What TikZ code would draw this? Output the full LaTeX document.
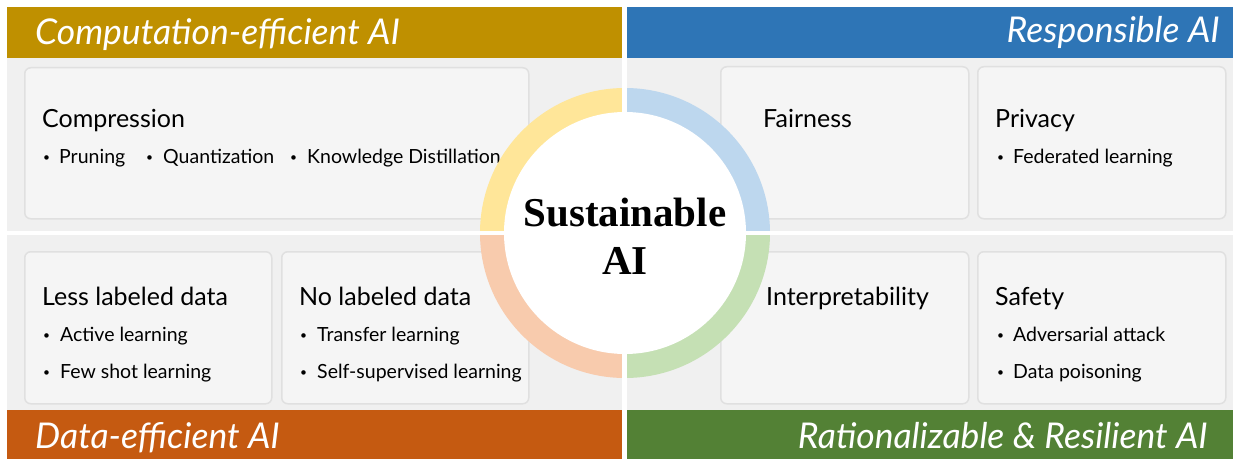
\documentclass[tikz,border=0pt]{standalone}
\usepackage{fontspec}
\setmainfont{Lato}
\newfontfamily\serifbold{Liberation Serif}
\definecolor{cgold}{HTML}{BF9000}
\definecolor{cblue}{HTML}{2E75B6}
\definecolor{corange}{HTML}{C55A11}
\definecolor{cgreen}{HTML}{538135}
\definecolor{rgold}{HTML}{FFE699}
\definecolor{rblue}{HTML}{BDD7EE}
\definecolor{rorange}{HTML}{F8CBAD}
\definecolor{rgreen}{HTML}{C5E0B4}
\definecolor{panelgray}{HTML}{F0F0F0}
\definecolor{cardgray}{HTML}{F5F5F5}
\begin{document}
\begin{tikzpicture}[x=1pt,y=-1pt,
  banner/.style={inner sep=0pt, text=white, font=\fontsize{35.5}{38}\selectfont\itshape},
  card/.style={draw=black!12, line width=1.5pt, fill=cardgray, rounded corners=6pt, anchor=north west},
  ttl/.style={inner sep=0pt, anchor=base west, font=\fontsize{25}{28}\selectfont},
  itm/.style={inner sep=0pt, anchor=base west, font=\fontsize{19.5}{22}\selectfont},
  dot/.style={inner sep=0pt, anchor=base west, font=\fontsize{12}{14}\selectfont, yshift=2pt}
]
\useasboundingbox (0,0) rectangle (1235,460);
\fill[white] (0,0) rectangle (1235,460);
% banners and panels
\fill[cgold] (7,7) rectangle (622,58);
\fill[cblue] (627,7) rectangle (1233,58);
\fill[panelgray] (7,58) rectangle (622,231);
\fill[panelgray] (627,58) rectangle (1233,231);
\fill[panelgray] (7,235) rectangle (622,410);
\fill[panelgray] (627,235) rectangle (1233,410);
\fill[corange] (7,410) rectangle (622,459);
\fill[cgreen] (627,410) rectangle (1233,459);
\node[banner, anchor=base west] (hce) at (35,45) {Computation-efficient AI};
\node[banner, anchor=base east] (hre) at (1220,43) {Responsible AI};
\node[banner, anchor=base west] (hde) at (35,448) {Data-efficient AI};
\node[banner, anchor=base east] (hrr) at (1208,448) {Rationalizable \& Resilient AI};
% cards
\node[card, minimum width=504pt, minimum height=151pt] (ccomp) at (24,67) {};
\node[card, minimum width=248pt, minimum height=152pt] (cfair) at (720,66) {};
\node[card, minimum width=248pt, minimum height=152pt] (cpriv) at (977,66) {};
\node[card, minimum width=247pt, minimum height=152pt] (cless) at (24,251) {};
\node[card, minimum width=247pt, minimum height=152pt] (cno) at (281,251) {};
\node[card, minimum width=248pt, minimum height=152pt] (cint) at (720,251) {};
\node[card, minimum width=248pt, minimum height=152pt] (csafe) at (977,251) {};
% card texts
\node[ttl] (tcomp) at (42,127) {Compression};
\node[dot] (b1) at (43,163) {•};
\node[itm] (i1) at (59,163) {Pruning};
\node[dot] (b2) at (146,163) {•};
\node[itm] (i2) at (163,163) {Quantization};
\node[dot] (b3) at (290,163) {•};
\node[itm] (i3) at (307,163) {Knowledge Distillation};
\node[ttl] (tfair) at (763,127) {Fairness};
\node[ttl] (tpriv) at (995,127) {Privacy};
\node[dot] (b4) at (997,163) {•};
\node[itm] (i4) at (1013,163) {Federated learning};
\node[ttl] (tless) at (42,305) {Less labeled data};
\node[dot] (b5) at (43,341) {•};
\node[itm] (i5) at (60,341) {Active learning};
\node[dot] (b6) at (43,378) {•};
\node[itm] (i6) at (60,378) {Few shot learning};
\node[ttl] (tno) at (299,305) {No labeled data};
\node[dot] (b7) at (300,341) {•};
\node[itm] (i7) at (317,341) {Transfer learning};
\node[dot] (b8) at (300,378) {•};
\node[itm] (i8) at (317,378) {Self-supervised learning};
\node[ttl] (tint) at (766,305) {Interpretability};
\node[ttl] (tsafe) at (995,305) {Safety};
\node[dot] (b9) at (997,341) {•};
\node[itm] (i9) at (1013,341) {Adversarial attack};
\node[dot] (b10) at (997,378) {•};
\node[itm] (i10) at (1013,378) {Data poisoning};
% ring
\coordinate (ctr) at (625,233);
\fill[rgold] (ctr) -- ++(-145,0) arc[start angle=180, end angle=90, radius=145pt] -- cycle;
\fill[rblue] (ctr) -- ++(0,-145) arc[start angle=90, end angle=0, radius=145pt] -- cycle;
\fill[rgreen] (ctr) -- ++(145,0) arc[start angle=0, end angle=-90, radius=145pt] -- cycle;
\fill[rorange] (ctr) -- ++(0,145) arc[start angle=-90, end angle=-180, radius=145pt] -- cycle;
\fill[white] (622,0) rectangle (627,460);
\fill[white] (0,231) rectangle (1235,235);
\node[circle, fill=white, minimum size=242pt, inner sep=0pt] (core) at (ctr) {};
\node[align=center, font=\serifbold\bfseries\fontsize{41}{48}\selectfont] (title) at (625,236) {Sustainable\\AI};
\end{tikzpicture}
\end{document}
